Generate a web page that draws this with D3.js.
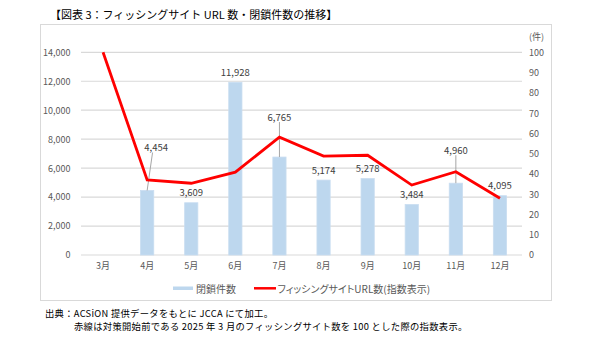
<!DOCTYPE html>
<html><head><meta charset="utf-8">
<script src="https://cdn.jsdelivr.net/npm/d3@7"></script>
<style>
html,body{margin:0;padding:0;background:#fff;}
svg{display:block;font-family:"Noto Sans CJK JP","Noto Sans",sans-serif;}
.palt{font-feature-settings:"palt";}
</style></head>
<body>
<script>
// ---- data ----
const months = ["3月","4月","5月","6月","7月","8月","9月","10月","11月","12月"];
const closedCounts = [null,4454,3609,11928,6765,5174,5278,3484,4960,4095];
const urlIndex = [100,37.0,35.4,40.9,58.1,48.8,49.2,34.5,41.1,28.0];
const leftTicks = [0,2000,4000,6000,8000,10000,12000,14000];
const rightTicks = [0,10,20,30,40,50,60,70,80,90,100];
const title = "【図表 3：フィッシングサイト URL 数・閉鎖件数の推移】";
const seriesNames = ["閉鎖件数","フィッシングサイトURL数(指数表示)"];
const rightUnit = "(件)";
const notes = ["出典：ACSiON 提供データをもとに JCCA にて加工。",
               "赤線は対策開始前である 2025 年 3 月のフィッシングサイト数を 100 とした際の指数表示。"];

// label adjustments (layout only): which labels are moved and how
const labelMoves = {"4月":{dx:9,dy:-33,leader:true},"7月":{dx:0,dy:-30,leader:true},"11月":{dx:0,dy:-23,leader:true}};

const W=600,H=339;
const svg=d3.select("body").append("svg").attr("width",W).attr("height",H);
svg.append("rect").attr("width",W).attr("height",H).attr("fill","#fff");

// title
svg.append("text").attr("x",50).attr("y",14).attr("dominant-baseline","central")
  .attr("font-size",11).attr("fill","#000").text(title);

// frame
svg.append("rect").attr("x",40.5).attr("y",24.5).attr("width",511).attr("height",276)
  .attr("fill","none").attr("stroke","#d9d9d9").attr("stroke-width",1);

const x=d3.scaleBand().domain(months).range([81,522]).padding(0);
const yL=d3.scaleLinear().domain([0,14000]).range([255,52.3]);
const yR=d3.scaleLinear().domain([0,100]).range([255,52.3]);

// gridlines
svg.append("g").selectAll("line").data(leftTicks).join("line")
  .attr("x1",81).attr("x2",522).attr("y1",d=>yL(d)).attr("y2",d=>yL(d))
  .attr("stroke","#d9d9d9").attr("stroke-width",1.2);

// left axis
const axL=svg.append("g").attr("transform","translate(81,0)")
  .call(d3.axisLeft(yL).tickValues(leftTicks).tickFormat(d3.format(",")).tickSize(0).tickPadding(10.5));
axL.select(".domain").remove();
axL.selectAll("text").attr("font-size",9).attr("fill","#595959").attr("font-family","Noto Sans CJK JP");

// right axis
const axR=svg.append("g").attr("transform","translate(522,0)")
  .call(d3.axisRight(yR).tickValues(rightTicks).tickSize(0).tickPadding(7));
axR.select(".domain").remove();
axR.selectAll("text").attr("font-size",9).attr("fill","#595959").attr("font-family","Noto Sans CJK JP");
svg.append("text").attr("x",529).attr("y",36).attr("dominant-baseline","central")
  .attr("font-size",9).attr("fill","#595959").text(rightUnit);

// x axis
const axX=svg.append("g").attr("transform","translate(0,255)")
  .call(d3.axisBottom(x).tickSize(0).tickPadding(8));
axX.select(".domain").remove();
axX.selectAll("text").attr("font-size",9).attr("fill","#595959").attr("font-family","Noto Sans CJK JP");

// bars
const bw=x.bandwidth()*0.3;
const barData=months.map((m,i)=>({m,v:closedCounts[i]})).filter(d=>d.v!=null);
svg.append("g").selectAll("rect").data(barData).join("rect")
  .attr("x",d=>x(d.m)+x.bandwidth()/2-bw/2).attr("width",bw)
  .attr("y",d=>yL(d.v)).attr("height",d=>yL(0)-yL(d.v))
  .attr("fill","#bdd7ee").attr("stroke","#c9ddf1").attr("stroke-width",0.8);

// leader lines
barData.forEach(d=>{
  const mv=labelMoves[d.m];
  if(mv&&mv.leader){
    const cx=x(d.m)+x.bandwidth()/2;
    const ly=yL(d.v)-10+mv.dy+5;
    svg.append("line").attr("x1",cx).attr("y1",yL(d.v)).attr("x2",cx+mv.dx*0.6).attr("y2",ly)
      .attr("stroke","#a6a6a6").attr("stroke-width",1);
  }
});

// line
const line=d3.line().x((d,i)=>x(months[i])+x.bandwidth()/2).y(d=>yR(d));
svg.append("path").datum(urlIndex).attr("d",line).attr("fill","none")
  .attr("stroke","#ff0000").attr("stroke-width",2.8).attr("stroke-linejoin","miter");

// data labels
svg.append("g").selectAll("text").data(barData).join("text")
  .attr("x",d=>x(d.m)+x.bandwidth()/2+((labelMoves[d.m]||{}).dx||0))
  .attr("y",d=>yL(d.v)-10.5+((labelMoves[d.m]||{}).dy||0))
  .attr("text-anchor","middle").attr("dominant-baseline","central")
  .attr("font-size",9.5).attr("fill","#404040").text(d=>d3.format(",")(d.v));

// legend
svg.append("rect").attr("x",173).attr("y",286.5).attr("width",20).attr("height",3.5).attr("fill","#bdd7ee");
svg.append("text").attr("class","palt").attr("x",196).attr("y",288.3).attr("dominant-baseline","central")
  .attr("font-size",10).attr("fill","#595959").text(seriesNames[0]);
svg.append("line").attr("x1",254).attr("x2",276).attr("y1",288.3).attr("y2",288.3)
  .attr("stroke","#ff0000").attr("stroke-width",2.5);
svg.append("text").attr("class","palt").attr("x",277.5).attr("y",288.3).attr("dominant-baseline","central")
  .attr("font-size",10).attr("fill","#595959").text(seriesNames[1]);

// notes
svg.append("text").attr("x",45).attr("y",312.8).attr("dominant-baseline","central")
  .attr("font-size",9.3).attr("letter-spacing",0.3).attr("fill","#000").text(notes[0]);
svg.append("text").attr("x",74).attr("y",325.8).attr("dominant-baseline","central")
  .attr("font-size",9.3).attr("letter-spacing",0.3).attr("fill","#000").text(notes[1]);
</script>
</body></html>
